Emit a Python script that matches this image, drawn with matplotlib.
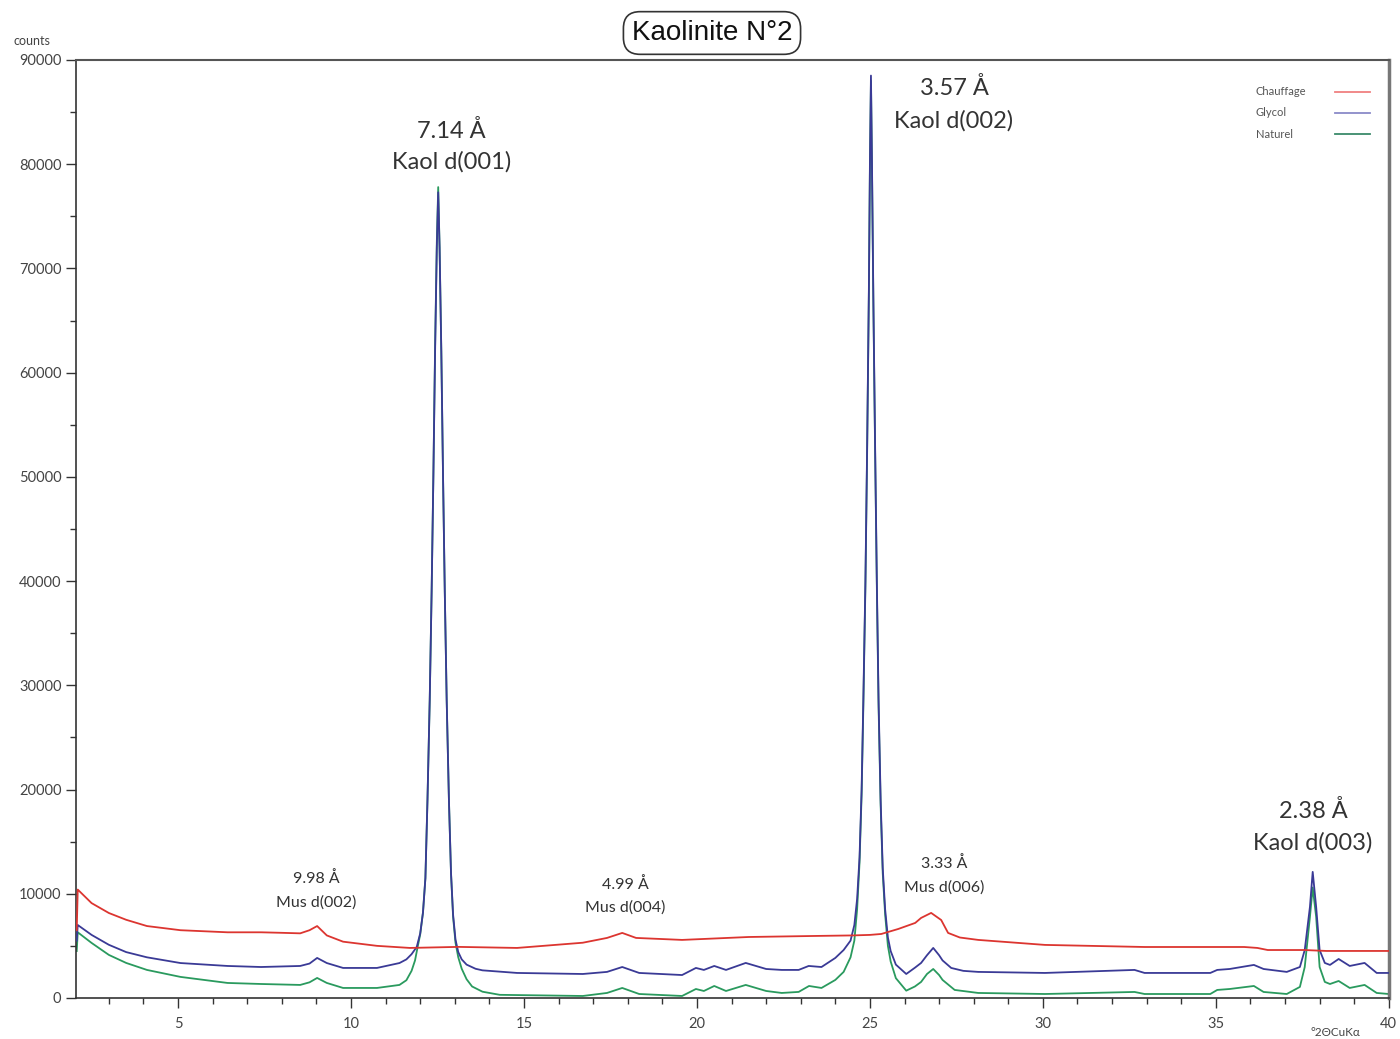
import matplotlib
matplotlib.use("Agg")
import matplotlib.pyplot as plt
from matplotlib.ticker import MultipleLocator

# --- data (2theta CuKa, counts) ---
chauffage_x = [2.07, 2.1, 2.5, 3.0, 3.5, 4.1, 5.07, 6.43, 7.4, 8.0, 8.53, 8.8, 9.02, 9.3, 9.77,
               10.75, 11.7, 13.1, 14.8, 16.7, 17.4, 17.84, 18.24, 19.57, 21.5, 23.43, 24.5, 25.0,
               25.33, 25.82, 26.31, 26.48, 26.77, 27.06, 27.26, 27.6, 28.13, 30.06, 32.94, 35.82,
               36.2, 36.5, 37.56, 38.2, 40.0]
chauffage_y = [6500, 10400, 9100, 8150, 7500, 6900, 6500, 6300, 6300, 6250, 6200, 6500, 6900, 6000, 5400,
               5000, 4800, 4900, 4800, 5300, 5760, 6240, 5760, 5570, 5850, 5950, 6000, 6050,
               6140, 6620, 7200, 7680, 8160, 7480, 6240, 5800, 5570, 5090, 4890, 4890,
               4800, 4600, 4600, 4510, 4510]

glycol_x = [2.07, 2.1, 2.5, 3.0, 3.5, 4.1, 5.07, 6.43, 7.4, 8.53, 8.8, 9.02, 9.3, 9.77, 10.75,
            11.4, 11.6, 11.75, 11.9, 12.0, 12.08, 12.15, 12.21, 12.275, 12.33, 12.38, 12.43, 12.48,
            12.52, 12.56, 12.61, 12.66, 12.71, 12.765, 12.83, 12.89, 12.95, 13.02, 13.1, 13.2,
            13.34, 13.6, 13.8, 14.8, 16.7, 17.4, 17.84, 18.33, 19.57, 19.97, 20.2, 20.5, 20.84,
            21.41, 22.0, 22.45, 22.94, 23.23, 23.6, 24.0, 24.24, 24.44, 24.55, 24.63, 24.7, 24.76,
            24.81, 24.87, 24.92, 24.97, 25.0, 25.03, 25.06, 25.1, 25.15, 25.2, 25.25, 25.31, 25.37,
            25.44, 25.52, 25.6, 25.75, 26.05, 26.3, 26.48, 26.65, 26.83, 27.0, 27.1, 27.35, 27.7,
            28.13, 30.06, 32.65, 32.94, 34.84, 35.04, 35.4, 36.1, 36.38, 37.05, 37.43, 37.57,
            37.72, 37.8, 37.9, 38.0, 38.15, 38.3, 38.55, 38.87, 39.3, 39.65, 40.0]
glycol_y = [5500, 7000, 6050, 5100, 4400, 3900, 3350, 3070, 2970, 3070, 3300, 3840, 3350, 2880, 2880,
            3350, 3700, 4200, 4900, 6200, 8200, 11500, 19000, 28600, 39000, 50000, 62000, 72000,
            77300, 72000, 62000, 50000, 39000, 28600, 19000, 12000, 8000, 5600, 4400, 3700,
            3200, 2800, 2650, 2400, 2300, 2500, 2970, 2400, 2200, 2880, 2690, 3070, 2690,
            3360, 2780, 2690, 2690, 3070, 2970, 3840, 4600, 5500, 7000, 9500, 13500, 20000,
            28600, 40000, 53000, 68000, 80000, 88500, 80000, 67000, 53000, 40000, 28600, 19000, 12500,
            8500, 5800, 4500, 3200, 2300, 2900, 3360, 4100, 4800, 4100, 3600, 2880, 2600,
            2500, 2400, 2690, 2400, 2400, 2690, 2780, 3170, 2780, 2500, 2970, 4600,
            8730, 12100, 8730, 4600, 3360, 3170, 3740, 3070, 3360, 2400, 2400]

naturel_x = [2.07, 2.1, 2.5, 3.0, 3.5, 4.1, 5.07, 6.43, 7.4, 8.53, 8.8, 9.02, 9.3, 9.77, 10.75,
             11.4, 11.6, 11.75, 11.85, 11.92, 12.0, 12.08, 12.15, 12.21, 12.275, 12.33, 12.38, 12.43,
             12.48, 12.52, 12.56, 12.61, 12.66, 12.71, 12.765, 12.83, 12.89, 12.95, 13.02, 13.1,
             13.2, 13.34, 13.5, 13.8, 14.3, 16.7, 17.4, 17.84, 18.33, 19.57, 19.97, 20.2, 20.5,
             20.84, 21.41, 22.0, 22.45, 22.94, 23.24, 23.6, 24.0, 24.24, 24.44, 24.55, 24.63, 24.7,
             24.76, 24.81, 24.87, 24.92, 24.97, 25.0, 25.03, 25.06, 25.1, 25.15, 25.2, 25.25, 25.31,
             25.37, 25.44, 25.52, 25.6, 25.75, 26.05, 26.3, 26.48, 26.65, 26.83, 27.0, 27.1, 27.45,
             28.13, 30.06, 32.65, 32.94, 34.84, 35.04, 35.4, 36.1, 36.38, 37.05, 37.43, 37.57,
             37.72, 37.8, 37.9, 38.0, 38.15, 38.3, 38.55, 38.87, 39.3, 39.65, 40.0]
naturel_y = [4500, 6300, 5280, 4130, 3360, 2690, 2020, 1440, 1340, 1250, 1500, 1920, 1440, 960, 960,
             1250, 1700, 2600, 3600, 4800, 6100, 8200, 11500, 19000, 28600, 39000, 50000, 62500,
             72500, 77800, 72000, 62000, 50000, 39000, 28600, 19000, 12000, 7800, 5300, 3900,
             2800, 1800, 1100, 600, 300, 190, 480, 960, 380, 190, 860, 670, 1150,
             670, 1250, 670, 480, 580, 1150, 960, 1730, 2500, 3900, 5500, 8500, 13000,
             19500, 28000, 39500, 52500, 67500, 79500, 88000, 79500, 66500, 52500, 39500, 28000, 18500,
             12000, 8000, 5000, 3500, 1900, 700, 1100, 1540, 2300, 2780, 2200, 1730, 770,
             480, 380, 576, 380, 380, 770, 860, 1150, 576, 380, 1060, 2970,
             7770, 10600, 7770, 2970, 1540, 1340, 1630, 960, 1250, 480, 380]

# peak labels: (2theta, counts, text, size)
peak_labels = [
    (12.91, 83190, "7.14 Å", 17), (12.91, 80210, "Kaol d(001)", 17),
    (27.43, 87310, "3.57 Å", 17), (27.43, 84150, "Kaol d(002)", 17),
    (37.81, 17940, "2.38 Å", 17), (37.81, 14870, "Kaol d(003)", 17),
    (8.99, 11420, "9.98 Å", 11.5), (8.99, 9120, "Mus d(002)", 11.5),
    (17.93, 10840, "4.99 Å", 11.5), (17.93, 8640, "Mus d(004)", 11.5),
    (27.15, 12860, "3.33 Å", 11.5), (27.15, 10550, "Mus d(006)", 11.5),
]

legend_names = ["Chauffage", "Glycol", "Naturel"]
legend_colors = ['#f08080', '#8a8ac8', '#3a8a6a']

plt.rcParams['font.family'] = ['Lato', 'DejaVu Sans']

fig = plt.figure(figsize=(14, 10.39), dpi=100)
ax = fig.add_axes([0.0543, 0.0395, 0.9377, 0.9028])

ax.plot(naturel_x, naturel_y, color='#2a9a5e', lw=1.3, zorder=2)
ax.plot(glycol_x, glycol_y, color='#3a3a96', lw=1.3, zorder=3)
ax.plot(chauffage_x, chauffage_y, color='#dc3530', lw=1.3, zorder=4)

for x, y, s, fs in peak_labels:
    ax.text(x, y, s, ha='center', va='center', fontsize=fs, color='#333333')

ax.set_xlim(2.05, 40)
ax.set_ylim(0, 90000)

ax.xaxis.set_major_locator(MultipleLocator(5))
ax.xaxis.set_minor_locator(MultipleLocator(1))
ax.yaxis.set_major_locator(MultipleLocator(10000))
ax.yaxis.set_minor_locator(MultipleLocator(5000))
ax.tick_params(axis='both', which='major', labelsize=10.5, labelcolor='#444444', color='#333333',
               length=7, width=1, direction='out')
ax.tick_params(axis='both', which='minor', length=4, width=1, color='#333333', direction='out')
ax.tick_params(axis='x', pad=7)

for side in ['left', 'bottom']:
    ax.spines[side].set_color('#333333')
    ax.spines[side].set_linewidth(1.2)
ax.spines['top'].set_color('#555555')
ax.spines['top'].set_linewidth(1.5)
ax.spines['right'].set_color('#777777')
ax.spines['right'].set_linewidth(2.5)

fig.text(13 / 1400, 1 - 41 / 1039, "counts", fontsize=9, color='#444444', ha='left', va='center')
fig.text(1335 / 1400, 1 - 1032 / 1039, "°2ΘCuKα", fontsize=8.5, color='#444444', ha='center',
         va='center')

fig.text(712 / 1400, 1 - 33 / 1039, "Kaolinite N°2", fontsize=20, color='#111111', ha='center',
         va='center', family='Liberation Sans',
         bbox=dict(boxstyle='round,pad=0.3,rounding_size=0.6', fc='white', ec='#333333', lw=1.2))

# legend: names left-aligned, sample lines to their right
for i, (name, c) in enumerate(zip(legend_names, legend_colors)):
    yy = 0.966 - i * 0.0225
    ax.text(0.8987, yy, name, transform=ax.transAxes, fontsize=8, color='#555555',
            ha='left', va='center')
    ax.plot([0.9589, 0.9855], [yy, yy], transform=ax.transAxes, color=c, lw=1.3)

fig.savefig('out.png', dpi=100)
